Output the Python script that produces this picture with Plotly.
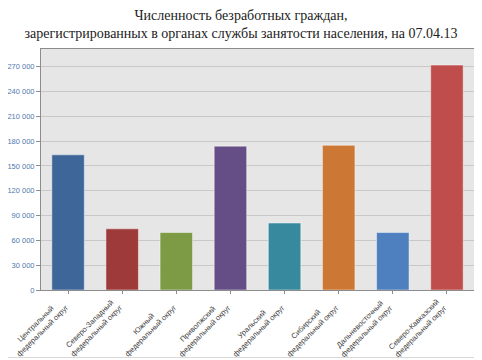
import plotly.graph_objects as go

categories = [
    "Центральный<br>федеральный округ",
    "Северо-Западный<br>федеральный округ",
    "Южный<br>федеральный округ",
    "Приволжский<br>федеральный округ",
    "Уральский<br>федеральный округ",
    "Сибирский<br>федеральный округ",
    "Дальневосточный<br>федеральный округ",
    "Северо-Кавказский<br>федеральный округ",
]
values = [163500, 74000, 69500, 174000, 81000, 175000, 69500, 272000]
colors = ["#3E6699", "#9E3B3A", "#7D9A45", "#654E85", "#378A9E", "#CC7733", "#4E7FBF", "#BF4D4B"]
y_ticks = [0, 30000, 60000, 90000, 120000, 150000, 180000, 210000, 240000, 270000]

# The page body adds an 8px offset; figure coords = page coords - 8
OFF = 8
W, H = 482, 360
ml, mt = 41 - OFF, 49 - OFF
mr = W - (474 - OFF)
mb = H - (290 - OFF)
pw = W - ml - mr
ph = H - mt - mb

fig = go.Figure(go.Bar(
    x=categories, y=values,
    marker=dict(color=colors, line=dict(color="rgba(255,255,255,0.45)", width=1)),
    width=0.6,
))

# light outer frame (right and bottom edges visible)
fig.add_shape(type="rect", xref="paper", yref="paper",
              x0=(-20 - ml) / pw, x1=(481.5 - OFF - ml) / pw,
              y0=1 - (357.5 - OFF - mt) / ph, y1=1 + (mt + 20) / ph,
              line=dict(color="#d9d9d9", width=1), fillcolor="rgba(0,0,0,0)", layer="below")

for i, c in enumerate(categories):
    fig.add_annotation(
        x=i, xref="x", y=0, yref="paper",
        text=c, showarrow=False, textangle=-45, align="center",
        xanchor="right", yanchor="top", xshift=5, yshift=-4,
        font=dict(family="Liberation Sans", size=7.5, color="#404040"),
    )

fig.update_layout(
    width=W, height=H,
    margin=dict(l=ml, r=mr, t=mt, b=mb, autoexpand=False),
    paper_bgcolor="white",
    plot_bgcolor="#E6E6E6",
    separators=", ",
    showlegend=False,
    title=dict(
        text="Численность безработных граждан,<br>зарегистрированных в органах службы занятости населения, на 07.04.13",
        x=(241 - OFF) / W, xref="container", xanchor="center",
        y=1 - (19.5 - OFF) / H, yref="container", yanchor="middle",
        font=dict(family="Liberation Serif", size=14, color="#222222"),
    ),
    bargap=0.4,
    xaxis=dict(
        type="category",
        range=[-0.5, len(categories) - 0.5],
        automargin=False,
        showticklabels=False,
        showline=True, linecolor="#8c8c8c", linewidth=1, mirror=True,
        ticks="outside", ticklen=3, tickcolor="#8c8c8c",
        showgrid=False,
    ),
    yaxis=dict(
        automargin=False,
        range=[0, 291500],
        tickvals=y_ticks,
        tickformat=",d",
        tickfont=dict(family="Liberation Sans", size=7.5, color="#4F79AD"),
        showline=True, linecolor="#8c8c8c", linewidth=1, mirror=True,
        ticks="outside", ticklen=4, tickcolor="#8c8c8c",
        gridcolor="#C8C8C8", gridwidth=1,
        zeroline=False,
    ),
)

fig.write_html("out.html")
